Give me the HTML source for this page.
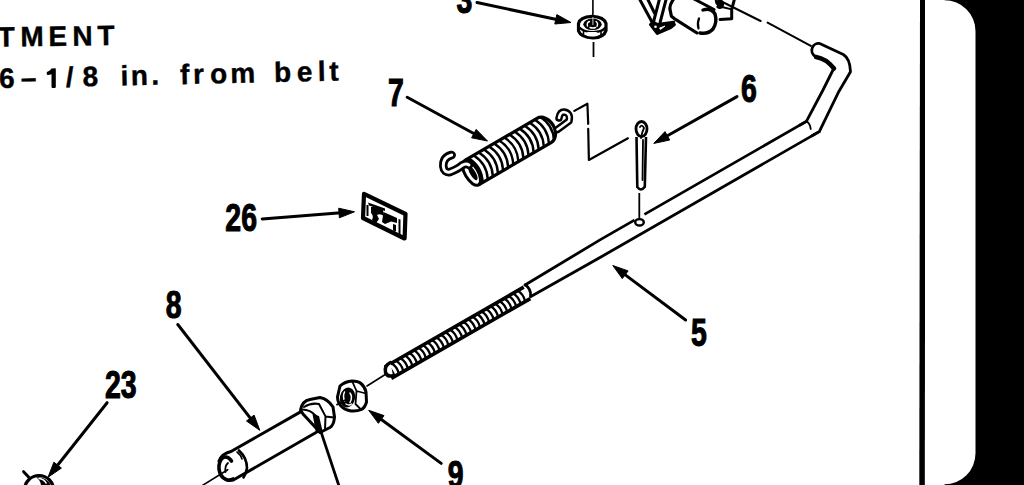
<!DOCTYPE html>
<html><head><meta charset="utf-8">
<style>
html,body{margin:0;padding:0;background:#fff;width:1024px;height:485px;overflow:hidden}
svg{display:block}
.t{font-family:"Liberation Sans",sans-serif;font-weight:bold;fill:#000;font-size:28px;stroke:#000;stroke-width:0.4px}
.n{font-family:"Liberation Sans",sans-serif;font-weight:bold;fill:#000;font-size:38.5px;stroke:#000;stroke-width:1.1px}
.k{fill:none;stroke:#000;stroke-linecap:round;stroke-linejoin:round}
</style></head><body>
<svg width="1024" height="485" viewBox="0 0 1024 485">
<rect width="1024" height="485" fill="#fff"/>

<polygon points="920,0 925.4,0 924.8,485 919.3,485" fill="#000"/>
<rect x="925" y="0" width="99" height="485" fill="#000"/>
<path d="M925,-1 H944.5 V0.2 A31,31 0 0 1 975.5,31.2 V453.3 A31,31 0 0 1 944.5,484.3 V486 H925 Z" fill="#fff"/>
<text class="t" transform="translate(0,46.6) rotate(-0.74)" x="-2.2 20.4 48.5 72.5 97.6" y="0">TMENT</text>
<text class="t" transform="translate(0,88.1) rotate(-1.26)" x="-0.8 20.9 66.1 82.9 120.8 131.0 151.6 180.3 193.4 210.4 230.5 274.4 297.1 318.2 329.7" y="0">6–/8in.frombelt</text>
<path d="M51.5,68.6 L55.4,68.3 Q56,68.5 55.8,70 L55.8,87.2 Q55.6,87.9 54.5,87.9 L52.3,87.9 Q51.5,87.8 51.5,87 L51.5,74.3 Q49,75.2 47.3,75 Q46.6,74.6 46.7,72.6 Q47,71.8 48,71.6 Q50.3,70.8 51.5,68.6 Z" fill="#000"/>
<text class="n" transform="translate(456.6,12.6) scale(0.74,1)">3</text>
<text class="n" transform="translate(387.9,105.8) scale(0.74,1)">7</text>
<text class="n" transform="translate(740.9,101.8) scale(0.74,1)">6</text>
<text class="n" transform="translate(225.3,230.8) scale(0.74,1)">26</text>
<text class="n" transform="translate(165.7,317.7) scale(0.74,1)">8</text>
<text class="n" transform="translate(105.0,397.7) scale(0.74,1)">23</text>
<text class="n" transform="translate(690.9,346.2) scale(0.74,1)">5</text>
<text class="n" transform="translate(447.8,487.6) scale(0.74,1)">9</text>
<path d="M806.4,121.4 L600,239.9 L525,285 M819.3,131.6 L600,257.5 L530,297" class="k" stroke-width="2.8"/>
<path d="M815.2,56.2 A6.8,6.8 0 0 1 820.2,43.7 L843.3,54.5 Q850,58.5 850.5,71.8 L839,91.2 L819.3,131.6 L806.4,121.4 L823,90 L834,68 Q826,58 815.2,56.2 Z" fill="#fff"/>
<path d="M815.2,56.2 A6.8,6.8 0 0 1 820.2,43.7 L843.3,54.5 Q850,58.5 850.5,71.8 L839,91.2 L819.3,131.6 L812,135.8" class="k" stroke-width="2.8"/>
<path d="M834,68 L823,90 L806.4,121.4 L800,125" class="k" stroke-width="2.8"/>
<path d="M816,57 Q826,58.5 834,68.5" class="k" stroke-width="4.5"/>
<path d="M806.4,121.4 Q810,123 810.7,129" class="k" stroke-width="1.8"/>
<path d="M721.5,1.5 L760.6,21 M767.6,22.6 L810.8,45.9" class="k" stroke-width="2"/>
<g transform="translate(388,372.7) rotate(-29.86)"><rect x="0" y="-8.4" width="160.3" height="16.8" fill="#fff"/><path d="M0,-6.6000000000000005 H160.3 M0,6.6000000000000005 H160.3" stroke="#000" stroke-width="3.6" fill="none"/><path d="M2.5,-6.4 Q5.7,-1.0 3.7,6.4" fill="none" stroke="#000" stroke-width="2.3"/><path d="M1.7,-6.4 L4.7,-6.4 L3.3,-4.2 Z" fill="#000"/><path d="M7.7,-6.4 Q10.9,-1.0 8.9,6.4" fill="none" stroke="#000" stroke-width="2.3"/><path d="M6.9,-6.4 L9.9,-6.4 L8.5,-4.2 Z" fill="#000"/><path d="M12.9,-6.4 Q16.1,-1.0 14.1,6.4" fill="none" stroke="#000" stroke-width="2.3"/><path d="M12.1,-6.4 L15.1,-6.4 L13.7,-4.2 Z" fill="#000"/><path d="M18.1,-6.4 Q21.3,-1.0 19.3,6.4" fill="none" stroke="#000" stroke-width="2.3"/><path d="M17.3,-6.4 L20.3,-6.4 L18.9,-4.2 Z" fill="#000"/><path d="M23.3,-6.4 Q26.5,-1.0 24.5,6.4" fill="none" stroke="#000" stroke-width="2.3"/><path d="M22.5,-6.4 L25.5,-6.4 L24.1,-4.2 Z" fill="#000"/><path d="M28.5,-6.4 Q31.7,-1.0 29.7,6.4" fill="none" stroke="#000" stroke-width="2.3"/><path d="M27.7,-6.4 L30.7,-6.4 L29.3,-4.2 Z" fill="#000"/><path d="M33.7,-6.4 Q36.9,-1.0 34.9,6.4" fill="none" stroke="#000" stroke-width="2.3"/><path d="M32.9,-6.4 L35.9,-6.4 L34.5,-4.2 Z" fill="#000"/><path d="M38.9,-6.4 Q42.1,-1.0 40.1,6.4" fill="none" stroke="#000" stroke-width="2.3"/><path d="M38.1,-6.4 L41.1,-6.4 L39.7,-4.2 Z" fill="#000"/><path d="M44.1,-6.4 Q47.3,-1.0 45.3,6.4" fill="none" stroke="#000" stroke-width="2.3"/><path d="M43.3,-6.4 L46.3,-6.4 L44.9,-4.2 Z" fill="#000"/><path d="M49.3,-6.4 Q52.5,-1.0 50.5,6.4" fill="none" stroke="#000" stroke-width="2.3"/><path d="M48.5,-6.4 L51.5,-6.4 L50.1,-4.2 Z" fill="#000"/><path d="M54.5,-6.4 Q57.7,-1.0 55.7,6.4" fill="none" stroke="#000" stroke-width="2.3"/><path d="M53.7,-6.4 L56.7,-6.4 L55.3,-4.2 Z" fill="#000"/><path d="M59.7,-6.4 Q62.9,-1.0 60.9,6.4" fill="none" stroke="#000" stroke-width="2.3"/><path d="M58.9,-6.4 L61.9,-6.4 L60.5,-4.2 Z" fill="#000"/><path d="M64.9,-6.4 Q68.1,-1.0 66.1,6.4" fill="none" stroke="#000" stroke-width="2.3"/><path d="M64.1,-6.4 L67.1,-6.4 L65.7,-4.2 Z" fill="#000"/><path d="M70.1,-6.4 Q73.3,-1.0 71.3,6.4" fill="none" stroke="#000" stroke-width="2.3"/><path d="M69.3,-6.4 L72.3,-6.4 L70.9,-4.2 Z" fill="#000"/><path d="M75.3,-6.4 Q78.5,-1.0 76.5,6.4" fill="none" stroke="#000" stroke-width="2.3"/><path d="M74.5,-6.4 L77.5,-6.4 L76.1,-4.2 Z" fill="#000"/><path d="M80.5,-6.4 Q83.7,-1.0 81.7,6.4" fill="none" stroke="#000" stroke-width="2.3"/><path d="M79.7,-6.4 L82.7,-6.4 L81.3,-4.2 Z" fill="#000"/><path d="M85.7,-6.4 Q88.9,-1.0 86.9,6.4" fill="none" stroke="#000" stroke-width="2.3"/><path d="M84.9,-6.4 L87.9,-6.4 L86.5,-4.2 Z" fill="#000"/><path d="M90.9,-6.4 Q94.1,-1.0 92.1,6.4" fill="none" stroke="#000" stroke-width="2.3"/><path d="M90.1,-6.4 L93.1,-6.4 L91.7,-4.2 Z" fill="#000"/><path d="M96.1,-6.4 Q99.3,-1.0 97.3,6.4" fill="none" stroke="#000" stroke-width="2.3"/><path d="M95.3,-6.4 L98.3,-6.4 L96.9,-4.2 Z" fill="#000"/><path d="M101.3,-6.4 Q104.5,-1.0 102.5,6.4" fill="none" stroke="#000" stroke-width="2.3"/><path d="M100.5,-6.4 L103.5,-6.4 L102.1,-4.2 Z" fill="#000"/><path d="M106.5,-6.4 Q109.7,-1.0 107.7,6.4" fill="none" stroke="#000" stroke-width="2.3"/><path d="M105.7,-6.4 L108.7,-6.4 L107.3,-4.2 Z" fill="#000"/><path d="M111.7,-6.4 Q114.9,-1.0 112.9,6.4" fill="none" stroke="#000" stroke-width="2.3"/><path d="M110.9,-6.4 L113.9,-6.4 L112.5,-4.2 Z" fill="#000"/><path d="M116.9,-6.4 Q120.1,-1.0 118.1,6.4" fill="none" stroke="#000" stroke-width="2.3"/><path d="M116.1,-6.4 L119.1,-6.4 L117.7,-4.2 Z" fill="#000"/><path d="M122.1,-6.4 Q125.3,-1.0 123.3,6.4" fill="none" stroke="#000" stroke-width="2.3"/><path d="M121.3,-6.4 L124.3,-6.4 L122.9,-4.2 Z" fill="#000"/><path d="M127.3,-6.4 Q130.5,-1.0 128.5,6.4" fill="none" stroke="#000" stroke-width="2.3"/><path d="M126.5,-6.4 L129.5,-6.4 L128.1,-4.2 Z" fill="#000"/><path d="M132.5,-6.4 Q135.7,-1.0 133.7,6.4" fill="none" stroke="#000" stroke-width="2.3"/><path d="M131.7,-6.4 L134.7,-6.4 L133.3,-4.2 Z" fill="#000"/><path d="M137.7,-6.4 Q140.9,-1.0 138.9,6.4" fill="none" stroke="#000" stroke-width="2.3"/><path d="M136.9,-6.4 L139.9,-6.4 L138.5,-4.2 Z" fill="#000"/><path d="M142.9,-6.4 Q146.1,-1.0 144.1,6.4" fill="none" stroke="#000" stroke-width="2.3"/><path d="M142.1,-6.4 L145.1,-6.4 L143.7,-4.2 Z" fill="#000"/><path d="M148.1,-6.4 Q151.3,-1.0 149.3,6.4" fill="none" stroke="#000" stroke-width="2.3"/><path d="M147.3,-6.4 L150.3,-6.4 L148.9,-4.2 Z" fill="#000"/><path d="M153.3,-6.4 Q156.5,-1.0 154.5,6.4" fill="none" stroke="#000" stroke-width="2.3"/><path d="M152.5,-6.4 L155.5,-6.4 L154.1,-4.2 Z" fill="#000"/></g>
<path d="M525.5,284.8 Q531,289 530.6,295.5" class="k" stroke-width="2.8"/>
<path d="M390.5,362.5 q-6.5,3 -5,10 q2,5 7.5,3" fill="#fff" stroke="#000" stroke-width="3.4" stroke-linecap="round"/>
<path d="M386,374 L367,386" class="k" stroke-width="1.6"/>
<line x1="592.9" y1="0" x2="592.9" y2="24" stroke="#000" stroke-width="1.6"/>
<line x1="593.5" y1="42" x2="593.5" y2="57" stroke="#000" stroke-width="1.8"/>
<path d="M578.5,23.5 Q580,16.8 592,16.3 Q604,16.8 606,23.5 L606,30.5 Q604,37.5 593,38 Q581,37.5 578.5,31 Z" fill="#fff" stroke="#000" stroke-width="3.2"/>
<path d="M580,28 Q584,32 593,32 Q602,32 605,28" class="k" stroke-width="2.2"/>
<ellipse cx="592.5" cy="24.3" rx="9.2" ry="5.8" fill="#000"/>
<path d="M587.5,26 Q586.5,22.5 589.5,21.5 M596,21.5 Q598.5,23 597,26.5 M590,27.5 Q593,28.5 595.5,27.5" fill="none" stroke="#fff" stroke-width="1.4" stroke-linecap="round"/>
<line x1="592.9" y1="17" x2="592.9" y2="25" stroke="#fff" stroke-width="0.8"/>
<rect x="586.5" y="32" width="11.5" height="4.3" rx="2" fill="#fff"/>
<line x1="583.5" y1="31" x2="583.5" y2="36" stroke="#000" stroke-width="1.6"/>
<line x1="601" y1="31" x2="601" y2="36" stroke="#000" stroke-width="1.6"/>
<path d="M651,23 L657,24.5 L673,22.5 L670.6,27.5 L657.3,33.4 Z" fill="#000"/>
<path d="M639.5,-1 L652,22 M647.6,-1 L654.5,13 M659.5,-1 L653.6,21.5 M666.2,-1 L660.2,22" class="k" stroke-width="3"/>
<path d="M652,22 L657.3,24.5 L673.6,22.3 M650.6,24.5 L657.3,33.4 L670.6,27.5 L674.3,24.5" class="k" stroke-width="3.2"/>
<ellipse cx="655.5" cy="26.8" rx="1.3" ry="1.2" fill="#fff"/>
<path d="M659.5,28 L665,26 L660.5,29.5 Z" fill="#fff" stroke="#fff" stroke-width="0.8"/>
<path d="M673.6,-1 Q669.5,5 669.9,8.9 L671.4,16.3 L674.3,18.6 L697,33" class="k" stroke-width="3.2"/>
<path d="M694,-1 L714,9.5" class="k" stroke-width="3"/>
<path d="M703,10 Q711,7.5 715,14 Q717.5,22 713,29 Q708,34.5 700,33" class="k" stroke-width="3.4"/>
<path d="M699,18.5 Q697,23 698.5,28.5" class="k" stroke-width="2.2"/>
<path d="M716.5,-1 Q715.5,3 719.5,6 M734.5,-1 L731.7,9.4 L731.7,18.7 L720,19.5" class="k" stroke-width="3"/>
<path d="M718,0 Q725,1 722,7 Q719,9 717,6" fill="#000" stroke="#000" stroke-width="2.5"/>
<path d="M722,7 L731.7,9.4" class="k" stroke-width="2"/>
<g transform="translate(471.5,172.8) rotate(-30.28)"><path d="M0,-14 L84,-14 A10.5,14 0 0 1 84,14 L0,14" fill="#fff" stroke="#000" stroke-width="3.2"/><path d="M5.0,-13.5 Q12.0,0 5.0,13.5" fill="none" stroke="#000" stroke-width="2.4"/><path d="M10.9,-13.5 Q17.9,0 10.9,13.5" fill="none" stroke="#000" stroke-width="2.4"/><path d="M16.8,-13.5 Q23.8,0 16.8,13.5" fill="none" stroke="#000" stroke-width="2.4"/><path d="M22.7,-13.5 Q29.7,0 22.7,13.5" fill="none" stroke="#000" stroke-width="2.4"/><path d="M28.6,-13.5 Q35.6,0 28.6,13.5" fill="none" stroke="#000" stroke-width="2.4"/><path d="M34.5,-13.5 Q41.5,0 34.5,13.5" fill="none" stroke="#000" stroke-width="2.4"/><path d="M40.4,-13.5 Q47.4,0 40.4,13.5" fill="none" stroke="#000" stroke-width="2.4"/><path d="M46.3,-13.5 Q53.3,0 46.3,13.5" fill="none" stroke="#000" stroke-width="2.4"/><path d="M52.2,-13.5 Q59.2,0 52.2,13.5" fill="none" stroke="#000" stroke-width="2.4"/><path d="M58.1,-13.5 Q65.1,0 58.1,13.5" fill="none" stroke="#000" stroke-width="2.4"/><path d="M64.0,-13.5 Q71.0,0 64.0,13.5" fill="none" stroke="#000" stroke-width="2.4"/><path d="M69.9,-13.5 Q76.9,0 69.9,13.5" fill="none" stroke="#000" stroke-width="2.4"/><path d="M75.8,-13.5 Q82.8,0 75.8,13.5" fill="none" stroke="#000" stroke-width="2.4"/><path d="M81.7,-13.5 Q88.7,0 81.7,13.5" fill="none" stroke="#000" stroke-width="2.4"/><path d="M87.6,-13.5 Q94.6,0 87.6,13.5" fill="none" stroke="#000" stroke-width="2.4"/><ellipse cx="0" cy="0" rx="6.5" ry="14" fill="#fff" stroke="#000" stroke-width="3"/><ellipse cx="1" cy="1" rx="2.8" ry="8" fill="#000"/></g>
<path d="M451.7,155 Q443,157 443.3,166.3 Q444,173 450,172 Q458,169 462,165.4 Q466,163 469,165" class="k" stroke-width="8.5"/>
<path d="M451.7,155 Q443,157 443.3,166.3 Q444,173 450,172 Q458,169 462,165.4 Q466,163 469,165" fill="none" stroke="#fff" stroke-width="3" stroke-linecap="round"/>
<path d="M559,118 Q560,112 564,112 Q571,113 569,121 L557.5,129.5" class="k" stroke-width="7.5"/>
<path d="M559,118 Q560,112 564,112 Q571,113 569,121 L557.5,129.5" fill="none" stroke="#fff" stroke-width="2.6" stroke-linecap="round"/>
<path d="M574.4,110.9 L587.4,103.7 L588.2,123.9 M588.2,128.9 L588.9,160 L627.9,138.3" class="k" stroke-width="2.2"/>
<path d="M636.5,137 L637.3,187 Q641,192 644.8,186.7 L646,137" fill="#fff" stroke="#000" stroke-width="2.6"/>
<path d="M643,140 L642.5,180" class="k" stroke-width="1.8"/>
<ellipse cx="641.5" cy="129" rx="5.5" ry="7.5" fill="#fff" stroke="#000" stroke-width="2.8"/>
<path d="M640,127 Q642,124 644,128 Q642,132 641,138" class="k" stroke-width="1.8"/>
<line x1="634.5" y1="220.1" x2="644.5" y2="214.4" stroke="#fff" stroke-width="4"/>
<line x1="639.3" y1="193" x2="639.3" y2="220" stroke="#000" stroke-width="1.8"/>
<ellipse cx="639.5" cy="222.3" rx="4.3" ry="3.2" fill="#fff" stroke="#000" stroke-width="2.4"/>
<path d="M364,193.8 L405.5,214 L404.6,238.5 L363,218 Z" fill="#fff" stroke="#000" stroke-width="4.2" stroke-linejoin="round"/>
<path d="M368,202.5 L385,208.5 L385,211 L369,205.5 Z" fill="#000"/>
<path d="M366.5,205 L368.5,205 L368.5,216 L366.5,216 Z" fill="#000"/>
<path d="M371,207 Q377,206 383,210 L384,216 Q380,213 377,215 L379,219 L376,223 L372,220 Q374,216 371,213 Z" fill="#000"/>
<path d="M383.5,212 L397,218 L397,223 L391,221.5 L385,224 L382,222 Z" fill="#000"/>
<path d="M393,224 L396,225 L396,231.5 L393,230.5 Z" fill="#000"/>
<path d="M373,221.5 L385,228 L384,230 L372,224 Z" fill="#000"/>
<path d="M398.5,219 L400.5,219.5 L400.5,234.5 L398.5,233.5 Z" fill="#000"/>
<path d="M219,461 Q222,453.5 231,451.5 L301,411.6" class="k" stroke-width="3"/>
<path d="M228,480.5 L233.3,480 L316,432.5" class="k" stroke-width="3"/>
<path d="M231.5,461 Q228,455.5 223,457.5 Q218.5,461 219,469 Q220,477 226,479.5 Q230,481 233,479" class="k" stroke-width="3.6"/>
<path d="M239,450.5 Q247,458 247,468 Q246,474 243.5,477.5" class="k" stroke-width="2.6"/>
<path d="M237,452 Q241,455 242,459" class="k" stroke-width="1.6"/>
<path d="M228,463 Q224.5,466 225.5,472" class="k" stroke-width="1.8"/>
<path d="M227.7,469.7 L200,487" class="k" stroke-width="1.6"/>
<path d="M300.5,410 Q302,401 310,399.5 L320,397.5 Q328,399 333,407 L334.5,417 Q334,425 330,427.5 L320,432.5 L316,428 L303,414 Z" fill="#fff" stroke="#000" stroke-width="3" stroke-linejoin="round"/>
<path d="M304,407 Q311,402.5 319,404 M319,404 L325.5,416.4 L325,429.5 M325.5,416.4 L334,417.5 M301,409.5 Q310,409 316,416" class="k" stroke-width="2"/>
<path d="M312.5,414 L319,416 L323,433 L316,433 Z" fill="#000"/>
<path d="M340,386 Q345,381.5 352,381 Q358,381 361,383.5 Q365,387 366,392 L366.5,402 Q365,407.5 361.5,409.5 Q357,411.5 351,411 Q345,410 342,407 Q337.5,403 337.5,397 Z" fill="#fff" stroke="#000" stroke-width="3"/>
<path d="M352.5,382 L356.5,391 L366,393.5 M356.5,391 L355.5,404 L361,409.5" class="k" stroke-width="1.8"/>
<ellipse cx="347.5" cy="397.5" rx="7.6" ry="10" transform="rotate(12 347.5 397.5)" fill="#000"/>
<path d="M344.5,392 Q342.5,396 344.5,401 M350,393 Q353,397 350,402.5 M346,404 Q349,406 351.5,404" fill="none" stroke="#fff" stroke-width="1.5" stroke-linecap="round"/>
<path d="M336.8,404.7 L347,399" class="k" stroke-width="1.6"/>
<path d="M23.6,471.7 L28.6,477" class="k" stroke-width="3"/>
<circle cx="39" cy="490" r="14.5" fill="#fff" stroke="#000" stroke-width="3.2"/>
<path d="M36,477.5 Q46,476 51,485.5 L41,485.5 Q40.5,480 36,477.5 Z" fill="#000"/>
<path d="M39,478.5 Q44,479 46,483" fill="none" stroke="#fff" stroke-width="1.6" stroke-linecap="round"/>
<line x1="477.0" y1="2.5" x2="557.8" y2="19.7" stroke="#000" stroke-width="3.0" stroke-linecap="round"/>
<polygon points="571.0,22.5 554.8,24.0 556.8,14.6" fill="#000" stroke="#000" stroke-width="1" stroke-linejoin="round"/>
<line x1="407.2" y1="97.2" x2="475.6" y2="134.5" stroke="#000" stroke-width="3.0" stroke-linecap="round"/>
<polygon points="487.5,141.0 471.6,137.8 476.2,129.4" fill="#000" stroke="#000" stroke-width="1" stroke-linejoin="round"/>
<line x1="737.0" y1="96.6" x2="665.6" y2="136.8" stroke="#000" stroke-width="3.0" stroke-linecap="round"/>
<polygon points="653.8,143.4 665.0,131.6 669.7,140.0" fill="#000" stroke="#000" stroke-width="1" stroke-linejoin="round"/>
<line x1="262.2" y1="219.0" x2="341.0" y2="212.8" stroke="#000" stroke-width="3.0" stroke-linecap="round"/>
<polygon points="354.5,211.8 339.4,217.8 338.7,208.2" fill="#000" stroke="#000" stroke-width="1" stroke-linejoin="round"/>
<line x1="685.6" y1="320.0" x2="623.6" y2="273.6" stroke="#000" stroke-width="3.0" stroke-linecap="round"/>
<polygon points="612.8,265.5 628.1,270.9 622.3,278.6" fill="#000" stroke="#000" stroke-width="1" stroke-linejoin="round"/>
<line x1="177.8" y1="324.5" x2="251.5" y2="419.6" stroke="#000" stroke-width="3.0" stroke-linecap="round"/>
<polygon points="259.8,430.3 246.5,421.0 254.1,415.1" fill="#000" stroke="#000" stroke-width="1" stroke-linejoin="round"/>
<line x1="107.1" y1="402.7" x2="56.4" y2="466.7" stroke="#000" stroke-width="3.0" stroke-linecap="round"/>
<polygon points="48.0,477.3 53.9,462.2 61.4,468.1" fill="#000" stroke="#000" stroke-width="1" stroke-linejoin="round"/>
<line x1="441.2" y1="463.4" x2="379.6" y2="418.3" stroke="#000" stroke-width="3.0" stroke-linecap="round"/>
<polygon points="368.7,410.3 384.0,415.6 378.4,423.3" fill="#000" stroke="#000" stroke-width="1" stroke-linejoin="round"/>
<line x1="316.2" y1="417.4" x2="339" y2="486" stroke="#000" stroke-width="2.8"/>
</svg>
</body></html>
